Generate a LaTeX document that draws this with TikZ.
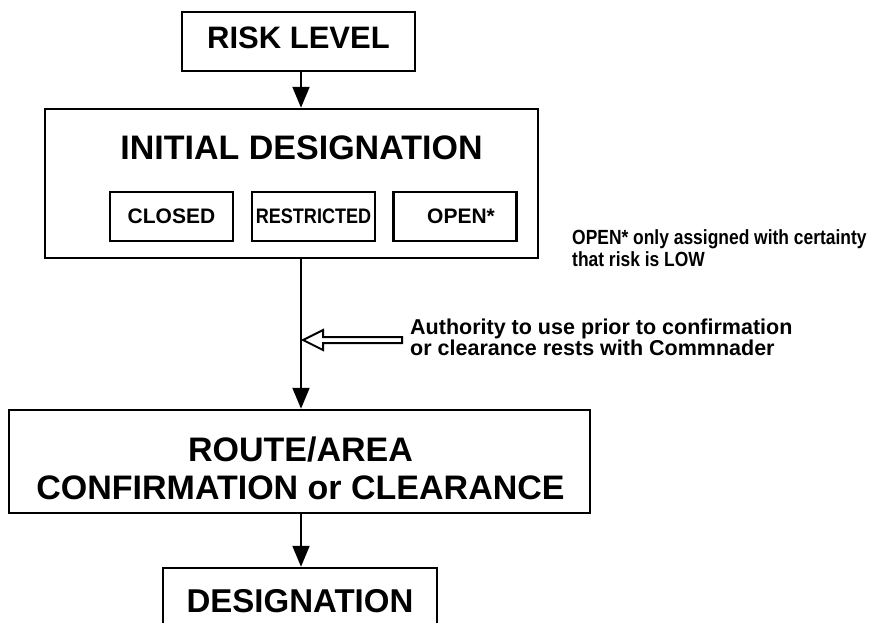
\documentclass[tikz,border=0pt]{standalone}
\usepackage{fontspec}
\setmainfont{Liberation Sans}
\newfontfamily\narrowfont{Liberation Sans}[FakeStretch=0.85]
\usetikzlibrary{arrows.meta,calc}
\begin{document}
\begin{tikzpicture}[x=1pt,y=-1pt,
  box/.style={draw, line width=2.5pt, inner sep=0pt},
  subbox/.style={box, minimum width=123pt, minimum height=49pt, font=\bfseries\fontsize{21}{25}\selectfont},
  conn/.style={line width=2pt, -{Triangle[length=21pt,width=17pt]}},
  big/.style={inner sep=0pt, font=\bfseries\fontsize{34}{38}\selectfont, align=center}
]
\useasboundingbox (0,0) rectangle (875,622);
\coordinate (sp) at (301,0);

\node[box, minimum width=233pt, minimum height=59pt, text depth=7pt,
      font=\bfseries\fontsize{31}{36}\selectfont] (risk) at (298.5,41.5) {RISK LEVEL\hspace{12pt}};

\node[box, minimum width=493pt, minimum height=149pt] (init) at (291.5,183.5) {};
\node[big] (initt) at (301.5,148) {INITIAL DESIGNATION};

\node[subbox] (closed) at (171.5,216.5) {CLOSED};
\node[subbox] (restr) at (313.5,216.5) {\scalebox{0.86}[1]{RESTRICTED}};
\node[subbox] (open) at (455,216.5) {\hspace{12pt}OPEN*};

\node[anchor=west, align=left, inner sep=0pt,
      font=\narrowfont\bfseries\fontsize{20.5}{22}\selectfont] (note) at (572,248.5)
      {OPEN* only assigned with certainty\\that risk is LOW};

\node[box, minimum width=581pt, minimum height=103pt] (route) at (299.5,461.5) {};
\node[big] (routet) at (300.5,468) {ROUTE/AREA\\CONFIRMATION or CLEARANCE};

\node[box, minimum width=274pt, minimum height=67pt,
      font=\bfseries\fontsize{33}{38}\selectfont] (design) at (300,601.5) {DESIGNATION};

\draw[conn] (risk.south -| sp) -- (init.north -| sp);
\draw[conn] (init.south -| sp) -- (route.north -| sp);
\draw[conn] (route.south -| sp) -- (design.north -| sp);

\coordinate (hatip) at (303,340);
\draw[line width=2pt, fill=white, line join=miter]
  (hatip) -- ++(20,-10) -- ++(0,7) -- ++(79,0) -- ++(0,6) -- ++(-79,0) -- ++(0,7) -- cycle;

\node[anchor=west, align=left, inner sep=0pt,
      font=\bfseries\fontsize{21.5}{20}\selectfont] (auth) at (410,337)
      {Authority to use prior to confirmation\\or clearance rests with Commnader};
\end{tikzpicture}
\end{document}
